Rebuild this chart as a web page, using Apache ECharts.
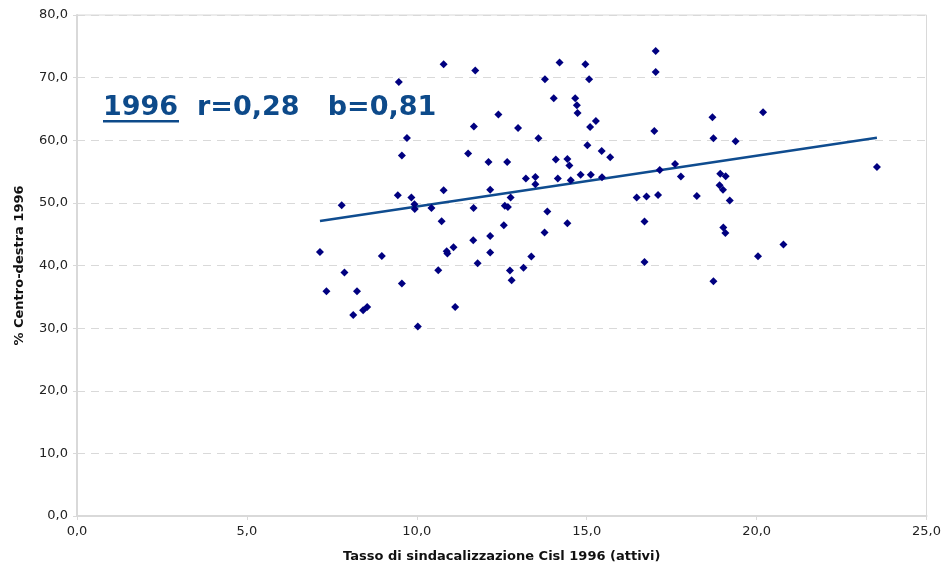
<!DOCTYPE html>
<html>
<head>
<meta charset="utf-8">
<script src="https://cdn.jsdelivr.net/npm/echarts@6/dist/echarts.min.js"></script>
<style>
  html, body { margin: 0; padding: 0; background: #fff; }
  #chart { width: 944px; height: 573px; }
</style>
</head>
<body>
<div id="chart"></div>
<script>
// Unionization rate (Cisl, active members) per province, 1996
const tassoCisl = [
  7.15, 7.79, 7.34, 7.87, 8.24, 8.13, 8.42, 8.54, 8.97, 9.44, 9.56, 9.84, 9.93, 9.94,
  10.03, 10.43, 10.79, 10.73, 10.63, 10.88, 10.90, 11.08, 11.13, 11.66, 11.67, 11.79,
  10.79, 11.72, 9.47, 11.68, 9.71, 9.56, 11.51,
  14.20, 14.96, 13.77, 15.07, 14.03, 14.66, 14.71, 14.73, 12.40, 15.27, 12.98, 15.10,
  13.58, 15.02, 15.44, 15.69, 12.11, 12.66, 14.09, 14.43, 14.49, 13.21, 13.49, 13.49,
  14.15, 14.53, 14.82, 15.12, 15.45,
  12.16, 12.76, 12.59, 12.68, 13.84, 14.43, 12.56, 12.16, 13.76, 12.16, 13.37, 12.74,
  13.14, 12.79, 16.47,
  17.03, 17.03, 20.19, 18.70, 16.99, 18.73, 19.38, 17.60, 17.15, 17.77, 18.93, 19.09,
  18.91, 19.01,
  16.76, 17.10, 18.24, 19.21, 16.70, 19.02, 19.08, 20.79, 20.04, 16.70, 18.73,
  23.54
];
// Centre-right vote share (%) in the same provinces, 1996
const centroDestra = [
  42.16, 49.61, 35.88, 38.87, 35.88, 32.10, 32.85, 33.37, 41.52, 51.21, 37.11, 50.84, 49.77, 49.02,
  30.24, 49.18, 52.01, 47.06, 39.23, 42.27, 41.90, 42.91, 33.37, 44.02, 49.18, 40.35,
  72.13, 71.12, 69.30, 62.18, 60.36, 57.55, 57.87,
  72.40, 72.13, 69.73, 69.73, 66.70, 66.70, 65.58, 64.35, 64.10, 63.07, 61.96, 62.12,
  60.31, 59.19, 58.28, 57.28, 56.53, 56.53, 56.91, 57.01, 55.95, 53.88, 54.13, 52.97,
  53.88, 53.60, 54.51, 54.51, 54.08,
  52.09, 50.84, 49.56, 49.34, 48.61, 46.74, 46.42, 44.71, 45.25, 42.06, 41.42, 39.19,
  39.66, 37.64, 50.84,
  74.25, 70.90, 64.46, 63.66, 61.48, 60.31, 59.83, 56.21, 55.25, 54.20, 54.67, 54.24,
  52.81, 52.09,
  51.00, 51.26, 51.10, 50.36, 47.01, 46.05, 45.19, 43.34, 41.47, 40.56, 37.48,
  55.73
];

// Linear fit: y = intercetta + pendenza * x
const pendenza = 0.81;
const intercetta = 41.33;
const titoloAnno = '1996';
const titoloStat = '  r=0,28   b=0,81';

const punti = tassoCisl.map((x, i) => [x, centroDestra[i]]);
const xMin = Math.min(...tassoCisl);
const xMax = Math.max(...tassoCisl);
const retta = [[xMin, intercetta + pendenza * xMin], [xMax, intercetta + pendenza * xMax]];

const fmt = v => v.toFixed(1).replace('.', ',');
const font = 'DejaVu Sans, Verdana, sans-serif';
const gridGray = '#d9d9d9';

const chart = echarts.init(document.getElementById('chart'));
chart.setOption({
  animation: false,
  backgroundColor: '#ffffff',
  grid: {
    left: 77, right: 17, top: 15, bottom: 57,
    show: true, borderColor: gridGray, borderWidth: 1, backgroundColor: 'transparent'
  },
  xAxis: {
    type: 'value', min: 0, max: 25, interval: 5,
    name: 'Tasso di sindacalizzazione Cisl 1996 (attivi)',
    nameLocation: 'middle', nameGap: 34,
    nameTextStyle: { fontFamily: font, fontWeight: 'bold', fontSize: 13, color: '#111' },
    axisLine: { show: true, onZero: false, lineStyle: { color: gridGray, width: 2 } },
    axisTick: { show: true, length: 4, lineStyle: { color: gridGray } },
    axisLabel: { formatter: fmt, fontFamily: font, fontSize: 13, color: '#222', margin: 9 },
    splitLine: { show: false }
  },
  yAxis: {
    type: 'value', min: 0, max: 80, interval: 10,
    name: '% Centro-destra 1996',
    nameLocation: 'middle', nameGap: 51,
    nameTextStyle: { fontFamily: font, fontWeight: 'bold', fontSize: 13, color: '#111' },
    axisLine: { show: true, lineStyle: { color: gridGray, width: 2 } },
    axisTick: { show: true, length: 4, lineStyle: { color: gridGray } },
    axisLabel: { formatter: fmt, fontFamily: font, fontSize: 13, color: '#222', margin: 9 },
    splitLine: { show: true, lineStyle: { color: gridGray, type: [8, 6], width: 1 } }
  },
  series: [
    {
      type: 'scatter',
      data: punti,
      symbol: 'diamond',
      symbolSize: 8,
      itemStyle: { color: '#000080', opacity: 1 },
      z: 3
    },
    {
      type: 'line',
      data: retta,
      showSymbol: false,
      symbol: 'none',
      lineStyle: { color: '#0f4c8f', width: 2.5 },
      z: 2
    }
  ],
  graphic: [
    {
      type: 'text', left: 103, top: 94, z: 10,
      style: {
        text: titoloAnno + titoloStat,
        font: 'bold 27px ' + font,
        fill: '#0d4a8a'
      }
    },
    {
      type: 'rect', left: 103, top: 120, z: 10,
      shape: { width: 76, height: 2.5 },
      style: { fill: '#0d4a8a' }
    }
  ]
});
</script>
</body>
</html>
